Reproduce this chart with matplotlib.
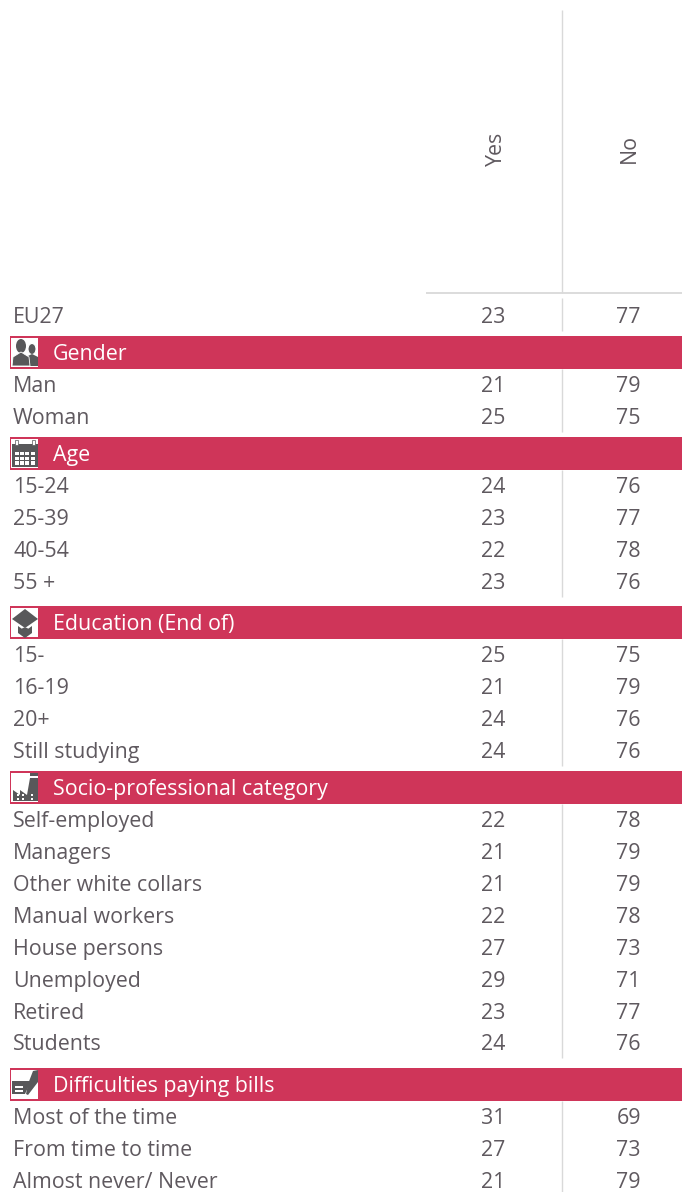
import matplotlib
matplotlib.use('Agg')
import matplotlib.pyplot as plt
from matplotlib.patches import Rectangle, Polygon, Circle, Ellipse

# data
columns = ['Yes', 'No']
total_label = 'EU27'
total_values = [23, 77]

gender_labels = ['Man', 'Woman']
gender_yes = [21, 25]
gender_no = [79, 75]

age_labels = ['15-24', '25-39', '40-54', '55 +']
age_yes = [24, 23, 22, 23]
age_no = [76, 77, 78, 76]

edu_labels = ['15-', '16-19', '20+', 'Still studying']
edu_yes = [25, 21, 24, 24]
edu_no = [75, 79, 76, 76]

socio_labels = ['Self-employed', 'Managers', 'Other white collars', 'Manual workers',
                'House persons', 'Unemployed', 'Retired', 'Students']
socio_yes = [22, 21, 21, 22, 27, 29, 23, 24]
socio_no = [78, 79, 79, 78, 73, 71, 77, 76]

bills_labels = ['Most of the time', 'From time to time', 'Almost never/ Never']
bills_yes = [31, 27, 21]
bills_no = [69, 73, 79]

groups = [
    ('Gender', gender_labels, gender_yes, gender_no, 'people', 336),
    ('Age', age_labels, age_yes, age_no, 'calendar', 437),
    ('Education (End of)', edu_labels, edu_yes, edu_no, 'cap', 606),
    ('Socio-professional category', socio_labels, socio_yes, socio_no, 'factory', 771),
    ('Difficulties paying bills', bills_labels, bills_yes, bills_no, 'bills', 1068),
]

RED = '#cf3559'
TEXT = '#5f595f'
GRID = '#d9d9d9'
ICON = '#58585a'
FS = 15.4
ROW = 31.9
BAND = 33
YES_X = 493.5
NO_X = 628.5
SEP_X = 562

plt.rcParams['font.family'] = ['Open Sans', 'DejaVu Sans']


def draw_icon(ax, kind, top):
    x0 = 11
    y0 = top + 2
    ax.add_patch(Rectangle((x0, y0), 27, 29, fc='white', ec='none', zorder=3))

    def shape(p):
        ax.add_patch(Polygon([(x0 + a, y0 + b) for a, b in p], fc=ICON, ec='none', zorder=4))

    if kind == 'people':
        ax.add_patch(Ellipse((x0 + 21, y0 + 11), 8, 11, fc=ICON, ec='white', lw=0.8, zorder=4))
        shape([(13, 28), (15, 19), (21, 16), (27, 19), (27, 28)])
        ax.add_patch(Ellipse((x0 + 10, y0 + 8), 10, 14, fc=ICON, ec='none', zorder=5))
        ax.add_patch(Polygon([(x0 + a, y0 + b) for a, b in
                              [(1, 28), (2, 19), (10, 14), (18, 19), (19, 28)]],
                             fc=ICON, ec='white', lw=0.6, zorder=5))
    elif kind == 'calendar':
        shape([(1, 5), (27, 5), (27, 28), (1, 28)])
        ax.add_patch(Rectangle((x0 + 4, y0 + 1), 2.5, 5, fc='white', ec=ICON, lw=0.5, zorder=5))
        ax.add_patch(Rectangle((x0 + 21, y0 + 1), 2.5, 5, fc='white', ec=ICON, lw=0.5, zorder=5))
        for i in range(4):
            for j in range(3):
                ax.add_patch(Rectangle((x0 + 4 + i * 5.2, y0 + 13 + j * 4.6), 4, 3.4,
                                       fc='white', ec='none', zorder=5))
    elif kind == 'cap':
        shape([(14, 1), (27, 11), (14, 20), (1, 11)])
        shape([(7, 18), (14, 23), (21, 18), (21, 25), (14, 30), (7, 25)])
        ax.add_patch(Circle((x0 + 14, y0 + 24), 4.5, fc=ICON, ec='none', zorder=4))
    elif kind == 'factory':
        shape([(2, 28), (2, 17), (9, 22), (9, 17), (16, 22), (19, 5), (27, 5), (27, 28)])
        ax.add_patch(Rectangle((x0 + 19, y0), 8, 2.5, fc=ICON, ec='none', zorder=4))
        for a in (6, 11, 20):
            for b in (21, 25):
                ax.add_patch(Rectangle((x0 + a, y0 + b), 2, 2.2, fc='white', ec='none', zorder=5))
    else:
        shape([(1, 11), (20, 11), (14, 24), (1, 24)])
        shape([(22, 1), (27, 0), (27, 12), (17, 25), (15, 24), (17, 14)])
        for b in (16, 20):
            ax.add_patch(Rectangle((x0 + 4, y0 + b), 8, 1.5, fc='white', ec='none', zorder=5))


def draw_row(ax, y, label, yes, no):
    ax.text(13, y, label, color=TEXT, fontsize=FS, va='center_baseline', ha='left')
    ax.text(YES_X, y, str(yes), color=TEXT, fontsize=FS, va='center_baseline', ha='center')
    ax.text(NO_X, y, str(no), color=TEXT, fontsize=FS, va='center_baseline', ha='center')


fig = plt.figure(figsize=(6.82, 11.92), dpi=100)
ax = fig.add_axes([0, 0, 1, 1])
ax.set_xlim(0, 682)
ax.set_ylim(1192, 0)
ax.axis('off')

# header
ax.plot([SEP_X, SEP_X], [10, 293], color=GRID, lw=1.0, solid_capstyle='butt')
ax.plot([426, 682], [293, 293], color=GRID, lw=1.3, solid_capstyle='butt')
ax.text(YES_X + 3, 149, columns[0], color=TEXT, fontsize=FS, rotation=90, va='center', ha='center')
ax.text(NO_X + 0.5, 148.5, columns[1], color=TEXT, fontsize=FS, rotation=90, va='center', ha='center')

# total row
draw_row(ax, 315, total_label, total_values[0], total_values[1])
ax.plot([SEP_X, SEP_X], [298, 331], color=GRID, lw=1.0, solid_capstyle='butt')

# groups
for title, labels, yes, no, icon, top in groups:
    ax.add_patch(Rectangle((10, top), 672, BAND, fc=RED, ec='none', zorder=2))
    draw_icon(ax, icon, top)
    ax.text(53, top + BAND / 2 - 0.5, title, color='white', fontsize=FS, va='center_baseline', ha='left', zorder=3)
    first = top + BAND + 15.2
    for i, label in enumerate(labels):
        draw_row(ax, first + i * ROW, label, yes[i], no[i])
    end = min(first + len(labels) * ROW - 16, 1192)
    ax.plot([SEP_X, SEP_X], [top + BAND, end], color=GRID, lw=1.0, solid_capstyle='butt')

fig.savefig('out.png', dpi=100, facecolor='white')
